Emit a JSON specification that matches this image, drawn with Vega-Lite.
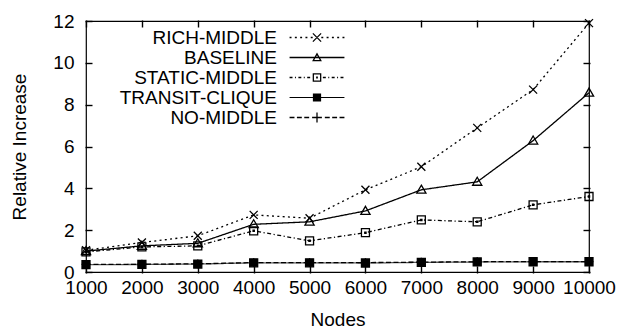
{
  "$schema": "https://vega.github.io/schema/vega-lite/v6.json",
  "autosize": {"type": "none"},
  "width": 503,
  "height": 251,
  "padding": {"left": 86, "top": 21, "right": 30, "bottom": 57},
  "background": "white",
  "config": {
    "font": "Liberation Sans",
    "view": {"stroke": "black", "strokeWidth": 1.2},
    "axis": {
      "grid": false,
      "domain": false,
      "ticks": true,
      "zindex": 1,
      "offset": -6,
      "tickColor": "black",
      "tickOpacity": 1,
      "tickWidth": 1.4,
      "tickSize": 7,
      "labelColor": "black",
      "labelFont": "Liberation Sans",
      "labelFontSize": 19,
      "titleFont": "Liberation Sans",
      "titleFontSize": 19,
      "titleFontWeight": "normal",
      "titleColor": "black"
    },
    "legend": {
      "orient": "none",
      "legendX": 221,
      "legendY": 6.5,
      "zindex": 1,
      "padding": 0,
      "rowPadding": -3.5,
      "symbolSize": 384,
      "symbolStrokeWidth": 0,
      "symbolFillColor": "black",
      "symbolOpacity": 1,
      "labelFont": "Liberation Sans",
      "labelFontSize": 19,
      "labelColor": "black",
      "labelAlign": "right",
      "labelOffset": -50,
      "labelLimit": 0
    }
  },
  "data": {
    "values": [
      {"Nodes": 1000, "Scheme": "RICH-MIDDLE", "Increase": 1.04},
      {"Nodes": 2000, "Scheme": "RICH-MIDDLE", "Increase": 1.41},
      {"Nodes": 3000, "Scheme": "RICH-MIDDLE", "Increase": 1.73},
      {"Nodes": 4000, "Scheme": "RICH-MIDDLE", "Increase": 2.73},
      {"Nodes": 5000, "Scheme": "RICH-MIDDLE", "Increase": 2.57},
      {"Nodes": 6000, "Scheme": "RICH-MIDDLE", "Increase": 3.93},
      {"Nodes": 7000, "Scheme": "RICH-MIDDLE", "Increase": 5.03},
      {"Nodes": 8000, "Scheme": "RICH-MIDDLE", "Increase": 6.89},
      {"Nodes": 9000, "Scheme": "RICH-MIDDLE", "Increase": 8.72},
      {"Nodes": 10000, "Scheme": "RICH-MIDDLE", "Increase": 11.9},
      {"Nodes": 1000, "Scheme": "BASELINE", "Increase": 1.0},
      {"Nodes": 2000, "Scheme": "BASELINE", "Increase": 1.25},
      {"Nodes": 3000, "Scheme": "BASELINE", "Increase": 1.37},
      {"Nodes": 4000, "Scheme": "BASELINE", "Increase": 2.28},
      {"Nodes": 5000, "Scheme": "BASELINE", "Increase": 2.4},
      {"Nodes": 6000, "Scheme": "BASELINE", "Increase": 2.92},
      {"Nodes": 7000, "Scheme": "BASELINE", "Increase": 3.93},
      {"Nodes": 8000, "Scheme": "BASELINE", "Increase": 4.31},
      {"Nodes": 9000, "Scheme": "BASELINE", "Increase": 6.28},
      {"Nodes": 10000, "Scheme": "BASELINE", "Increase": 8.57},
      {"Nodes": 1000, "Scheme": "STATIC-MIDDLE", "Increase": 0.96},
      {"Nodes": 2000, "Scheme": "STATIC-MIDDLE", "Increase": 1.2},
      {"Nodes": 3000, "Scheme": "STATIC-MIDDLE", "Increase": 1.25},
      {"Nodes": 4000, "Scheme": "STATIC-MIDDLE", "Increase": 1.97},
      {"Nodes": 5000, "Scheme": "STATIC-MIDDLE", "Increase": 1.49},
      {"Nodes": 6000, "Scheme": "STATIC-MIDDLE", "Increase": 1.88},
      {"Nodes": 7000, "Scheme": "STATIC-MIDDLE", "Increase": 2.49},
      {"Nodes": 8000, "Scheme": "STATIC-MIDDLE", "Increase": 2.4},
      {"Nodes": 9000, "Scheme": "STATIC-MIDDLE", "Increase": 3.21},
      {"Nodes": 10000, "Scheme": "STATIC-MIDDLE", "Increase": 3.61},
      {"Nodes": 1000, "Scheme": "TRANSIT-CLIQUE", "Increase": 0.35},
      {"Nodes": 2000, "Scheme": "TRANSIT-CLIQUE", "Increase": 0.36},
      {"Nodes": 3000, "Scheme": "TRANSIT-CLIQUE", "Increase": 0.38},
      {"Nodes": 4000, "Scheme": "TRANSIT-CLIQUE", "Increase": 0.44},
      {"Nodes": 5000, "Scheme": "TRANSIT-CLIQUE", "Increase": 0.44},
      {"Nodes": 6000, "Scheme": "TRANSIT-CLIQUE", "Increase": 0.43},
      {"Nodes": 7000, "Scheme": "TRANSIT-CLIQUE", "Increase": 0.46},
      {"Nodes": 8000, "Scheme": "TRANSIT-CLIQUE", "Increase": 0.48},
      {"Nodes": 9000, "Scheme": "TRANSIT-CLIQUE", "Increase": 0.49},
      {"Nodes": 10000, "Scheme": "TRANSIT-CLIQUE", "Increase": 0.49},
      {"Nodes": 1000, "Scheme": "NO-MIDDLE", "Increase": 0.36},
      {"Nodes": 2000, "Scheme": "NO-MIDDLE", "Increase": 0.37},
      {"Nodes": 3000, "Scheme": "NO-MIDDLE", "Increase": 0.39},
      {"Nodes": 4000, "Scheme": "NO-MIDDLE", "Increase": 0.45},
      {"Nodes": 5000, "Scheme": "NO-MIDDLE", "Increase": 0.45},
      {"Nodes": 6000, "Scheme": "NO-MIDDLE", "Increase": 0.45},
      {"Nodes": 7000, "Scheme": "NO-MIDDLE", "Increase": 0.47},
      {"Nodes": 8000, "Scheme": "NO-MIDDLE", "Increase": 0.49},
      {"Nodes": 9000, "Scheme": "NO-MIDDLE", "Increase": 0.5},
      {"Nodes": 10000, "Scheme": "NO-MIDDLE", "Increase": 0.5}
    ]
  },
  "resolve": {
    "scale": {"shape": "independent"},
    "axis": {"x": "independent", "y": "independent"}
  },
  "layer": [
    {
      "mark": {"type": "line", "strokeWidth": 1.3},
      "encoding": {
        "x": {
          "field": "Nodes", "type": "quantitative",
          "scale": {"domain": [1000, 10000], "nice": false, "zero": false},
          "axis": {
            "orient": "bottom", "title": "Nodes",
            "values": [1000, 2000, 3000, 4000, 5000, 6000, 7000, 8000, 9000, 10000],
            "format": "d", "labelPadding": 5, "labelFlush": false, "labelOverlap": false,
            "titleBaseline": "alphabetic", "titleY": 59
          }
        },
        "y": {
          "field": "Increase", "type": "quantitative",
          "scale": {"domain": [0, 12], "nice": false},
          "axis": {
            "orient": "left", "title": "Relative Increase",
            "values": [0, 2, 4, 6, 8, 10, 12],
            "labelPadding": 11, "labelFlush": false, "labelOverlap": false,
            "titleBaseline": "alphabetic", "titleX": -67
          }
        },
        "detail": {"field": "Scheme"},
        "strokeDash": {
          "field": "Scheme", "type": "nominal", "legend": null,
          "scale": {
            "domain": ["RICH-MIDDLE", "BASELINE", "STATIC-MIDDLE", "TRANSIT-CLIQUE", "NO-MIDDLE"],
            "range": [[2, 3.3], [1, 0], [4, 2.5, 1.2, 2.5], [1, 0], [5, 2.5]]
          }
        },
        "stroke": {
          "field": "Scheme", "type": "nominal", "legend": null,
          "scale": {
            "domain": ["RICH-MIDDLE", "BASELINE", "STATIC-MIDDLE", "TRANSIT-CLIQUE", "NO-MIDDLE"],
            "range": ["black", "black", "black", "#555555", "black"]
          }
        }
      }
    },
    {
      "mark": {"type": "point", "size": 64, "strokeWidth": 1.3, "stroke": "black", "opacity": 1},
      "encoding": {
        "x": {"field": "Nodes", "type": "quantitative", "axis": null},
        "y": {"field": "Increase", "type": "quantitative", "axis": null},
        "shape": {
          "field": "Scheme", "type": "nominal", "legend": null,
          "scale": {
            "domain": ["RICH-MIDDLE", "BASELINE", "STATIC-MIDDLE", "TRANSIT-CLIQUE", "NO-MIDDLE"],
            "range": [
              "M-1,-1L1,1M-1,1L1,-1",
              "M0,-1.15L1.15,0.85L-1.15,0.85Z",
              "M-1,-1H1V1H-1ZM-0.15,-0.15H0.15V0.15H-0.15Z",
              "M-1,-1H1V1H-1Z",
              "M-1.1,0H1.1M0,-1.1V1.1"
            ]
          }
        },
        "fill": {
          "field": "Scheme", "type": "nominal", "legend": null,
          "scale": {
            "domain": ["RICH-MIDDLE", "BASELINE", "STATIC-MIDDLE", "TRANSIT-CLIQUE", "NO-MIDDLE"],
            "range": ["transparent", "transparent", "transparent", "black", "transparent"]
          }
        }
      }
    },
    {
      "mark": {"type": "point", "size": 384, "filled": true, "color": "black", "opacity": 0},
      "encoding": {
        "x": {
          "field": "Nodes", "type": "quantitative",
          "axis": {
            "orient": "top", "title": null, "labels": false,
            "values": [1000, 2000, 3000, 4000, 5000, 6000, 7000, 8000, 9000, 10000]
          }
        },
        "y": {
          "field": "Increase", "type": "quantitative",
          "axis": {
            "orient": "right", "title": null, "labels": false,
            "values": [0, 2, 4, 6, 8, 10, 12]
          }
        },
        "shape": {
          "field": "Scheme", "type": "nominal",
          "legend": {
            "title": null,
            "encode": {"symbols": {"opacity": {"value": 1}, "fill": {"value": "black"}}}
          },
          "scale": {
            "domain": ["RICH-MIDDLE", "BASELINE", "STATIC-MIDDLE", "TRANSIT-CLIQUE", "NO-MIDDLE"],
            "range": [
              "M-2.8,-0.065H-2.6V0.065H-2.8ZM-2.26,-0.065H-2.06V0.065H-2.26ZM-1.72,-0.065H-1.52V0.065H-1.72ZM-1.18,-0.065H-0.98V0.065H-1.18ZM-0.64,-0.065H-0.44V0.065H-0.64ZM0.44,-0.065H0.64V0.065H0.44ZM0.98,-0.065H1.18V0.065H0.98ZM1.52,-0.065H1.72V0.065H1.52ZM2.06,-0.065H2.26V0.065H2.06ZM2.6,-0.065H2.8V0.065H2.6ZM-0.374,-0.466L0.466,0.374L0.374,0.466L-0.466,-0.374ZM-0.374,0.466L-0.466,0.374L0.374,-0.466L0.466,-0.374Z",
              "M-2.8,-0.065H2.8V0.065H-2.8ZM0,-0.5L0.5,0.38L-0.5,0.38ZM0,-0.237L-0.277,0.25L0.277,0.25Z",
              "M-2.8,-0.065H-2.5V0.065H-2.8ZM-2.25,-0.065H-2.15V0.065H-2.25ZM-1.9,-0.065H-1.6V0.065H-1.9ZM-1.35,-0.065H-1.25V0.065H-1.35ZM-1,-0.065H-0.7V0.065H-1ZM0.6,-0.065H0.9V0.065H0.6ZM1.15,-0.065H1.25V0.065H1.15ZM1.5,-0.065H1.8V0.065H1.5ZM2.05,-0.065H2.15V0.065H2.05ZM2.4,-0.065H2.7V0.065H2.4ZM-0.44,-0.44H0.44V0.44H-0.44ZM-0.31,-0.31V0.31H0.31V-0.31ZM-0.09,-0.09H0.09V0.09H-0.09Z",
              "M-2.8,-0.05H2.8V0.05H-2.8ZM-0.42,-0.42H0.42V0.42H-0.42Z",
              "M-2.8,-0.065H-2.3V0.065H-2.8ZM-2.05,-0.065H-1.55V0.065H-2.05ZM-1.3,-0.065H-0.8V0.065H-1.3ZM0.8,-0.065H1.3V0.065H0.8ZM1.55,-0.065H2.05V0.065H1.55ZM2.3,-0.065H2.8V0.065H2.3ZM-0.5,-0.065H0.5V0.065H-0.5ZM-0.065,-0.5H0.065V0.5H-0.065Z"
            ]
          }
        }
      }
    }
  ]
}
